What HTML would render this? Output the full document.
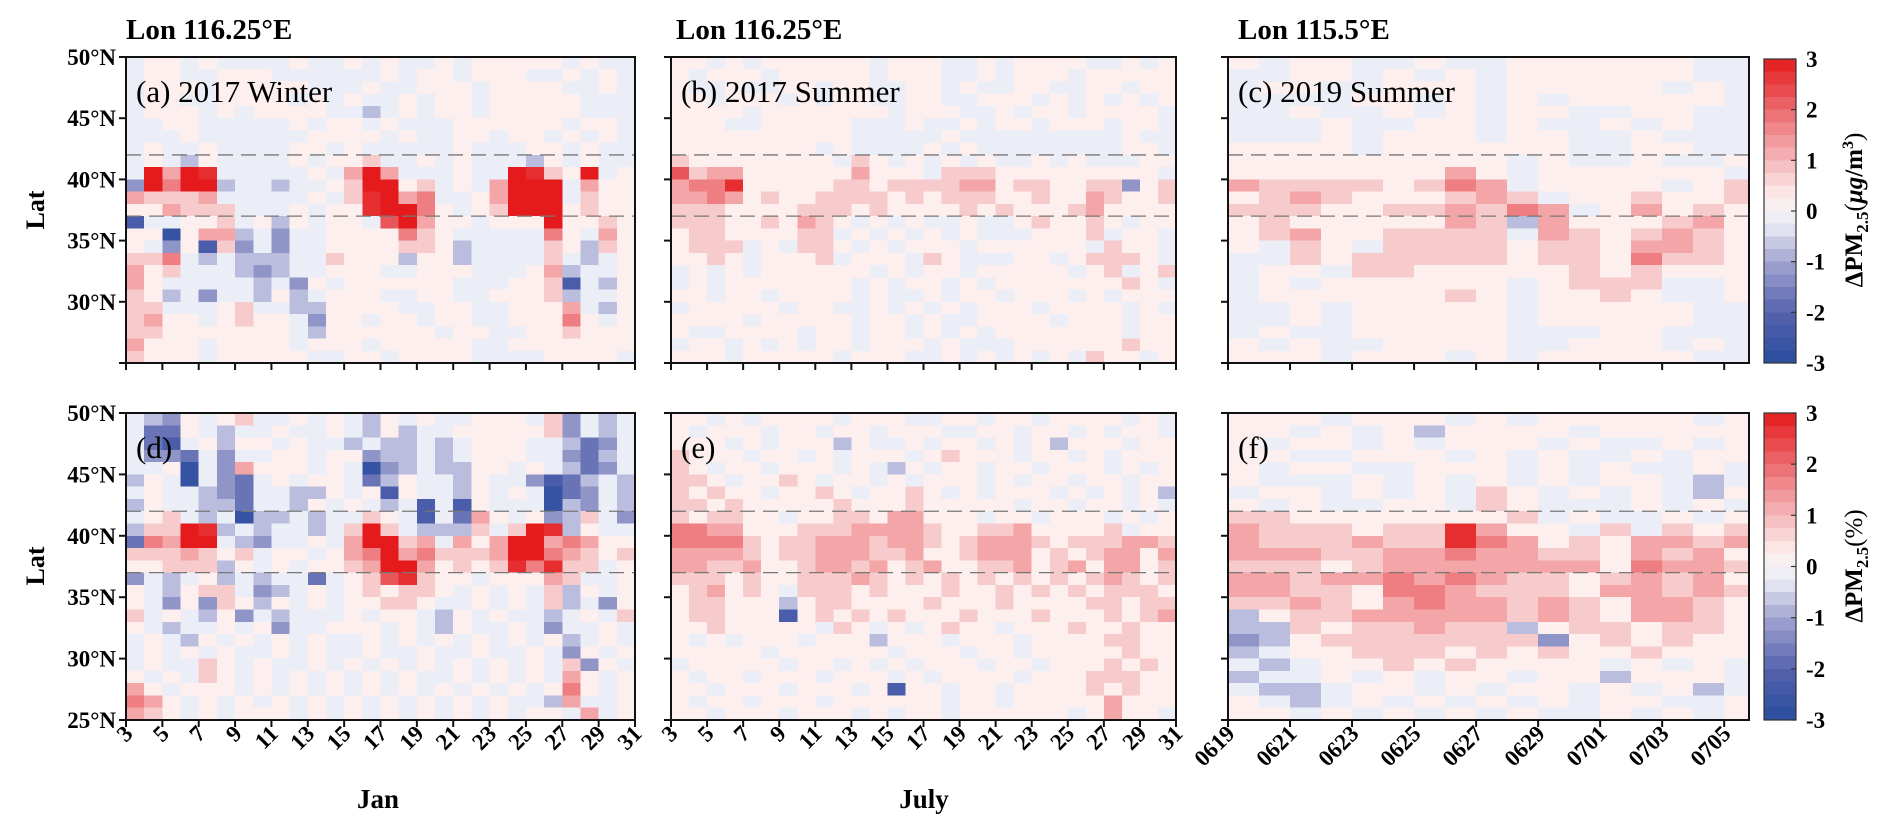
<!DOCTYPE html>
<html><head><meta charset="utf-8">
<style>
html,body{margin:0;padding:0;background:#fff;}
svg{display:block;font-family:"Liberation Serif",serif;}
</style></head>
<body>
<svg id="fig" width="1892" height="835" viewBox="0 0 1892 835" xmlns="http://www.w3.org/2000/svg">
<text x="126" y="39" font-size="29" font-weight="bold">Lon 116.25°E</text>
<text x="676" y="39" font-size="29" font-weight="bold">Lon 116.25°E</text>
<text x="1238" y="39" font-size="29" font-weight="bold">Lon 115.5°E</text>
<text transform="translate(44,210) rotate(-90)" text-anchor="middle" font-size="26" font-weight="bold">Lat</text>
<text transform="translate(44,566) rotate(-90)" text-anchor="middle" font-size="26" font-weight="bold">Lat</text>
<text x="378" y="808" text-anchor="middle" font-size="27" font-weight="bold">Jan</text>
<text x="924" y="808" text-anchor="middle" font-size="27" font-weight="bold">July</text>
<text transform="translate(1862,210) rotate(-90)" text-anchor="middle" font-size="25" font-weight="bold">ΔPM<tspan font-size="17" dy="6">2.5</tspan><tspan dy="-6" font-weight="normal">(</tspan><tspan font-style="italic">μg</tspan>/m<tspan font-size="16" dy="-9">3</tspan><tspan dy="9" font-weight="normal">)</tspan></text>
<text transform="translate(1862,566) rotate(-90)" text-anchor="middle" font-size="25" font-weight="bold">ΔPM<tspan font-size="17" dy="6">2.5</tspan><tspan dy="-6" font-weight="normal">(%)</tspan></text>
</svg>
<script>
const codeVals = {'F':-3,'E':-2.75,'D':-2.25,'C':-1.75,'B':-1.25,'A':-0.75,'-':-0.25,'+':0.25,'a':0.75,'b':1.25,'c':1.75,'d':2.25,'e':2.75,'f':3};
const latTicks = [50,45,40,35,30,25];
const dashLats = [42,37];
const janDays = [3,5,7,9,11,13,15,17,19,21,23,25,27,29,31];
const julyDays = [3,5,7,9,11,13,15,17,19,21,23,25,27,29,31];
const summer19Labels = ['0619','0621','0623','0625','0627','0629','0701','0703','0705'];
const summer19Offsets = [0,2,4,6,8,10,12,14,16];
const cbTicks = [3,2,1,0,-1,-2,-3];

const gridA = [
"-++-+----+--+-+--+-+++++-+--",
"-++--+++------+-++-+++--+-+-",
"-+++-+++++---+--+++-++++--+-",
"-++--++++-+-+--+-++-+++++---",
"-+++-+-++++--A-+-++-+++++---",
"--++-----+-++-+---++++++-++-",
"---+------++++-+--++-++-+-+-",
"-+--+----++-+-----+---++-+--",
"-+-A+----+-++a--+-+---A+-+--",
"-fbfe-----+-bfb---+--fea+f-+",
"BfcffA--A--+aff+a-+-bfff-b++",
"baaab-----+-aefbc--+bfff-a++",
"++baaa---+-++effc+-+afff+a++",
"D--++a-+A+-++-dfb++-+++f++a+",
"++E+bbA-B--++++ca+-----c+-b+",
"+-B+DaB-B--++++aa+A----a+Aa+",
"aac-A-AAA--a+++A++A----a-A-+",
"b+a---ABA--+++--+++---+bA--+",
"b+-----A-B+-++++++---++aD-A+",
"a+A-B--A+A-+++--++--+++aA--+",
"aa---+a--AA++++--++--+++b-A+",
"ab++-+a++-B++-++-++--+++c+-+",
"aa+++++++-A++++++-++--++a+++",
"b+++-++++-+++-+++++--+++++++",
"a+++-+++++--++-++++----++++-"];
const gridB = [
"++-+-++++++-+++--+-++++--+-+",
"+-+++-+++++-+++--+-+++-+++++",
"+--+--++-++--++-+--++--++-++",
"++-+++-+-++--++--+++-+-+-+-+",
"++++-+++++++-+++--+-++-++++-",
"+++--+++++---+--+-++-+++-++-",
"++++++++++-----+---------+--",
"++++++++-+----+-+--------++-",
"a++++++++-a+-+-+-+--+-+---++",
"dabb++++++b+++-aaa+++++++++-",
"bcce+++++aa+aaaabb+aa++aaB+a",
"bbcb+a++aaaa+a+aaa++a++ba++a",
"aaa++++aaa+a++++a+a+++ab++++",
"aaa++a+ba+-+-+--+--+a++a+-++",
"+aa++++aa-+-+-+-+---+++a-++-",
"+aaa-+-aa+-+-+++-++++++-a++-",
"++a+-+++a-+++-a+---++-+aaa+-",
"-+-+-++++++-+-++-+++++-+a-+a",
"-+-+++++++-+-++-+-+++++++a+-",
"++-++-++++-+--+-++-+++-+-+++",
"-+++++-++--+-+-+-+++-++++-+-",
"++++-+++++-++-+--++++-+++-++",
"+--++++-++-++-+-+-+++++++-++",
"-++-+-+-++-+++-+---++++++a++",
"+++-+++++-+++--+-+-+-+-a++-+"];
const gridC = [
"+-++--+--++++++--","--++-+-+-++++++--","-++--+++-+++++-+-","----++-+-+-+++++-",
"--+--+-+-++--++--","---+--++-+--+-+--","---+-+++-++--+---","++++-++++++--++--",
"+++++++++-+--+--+","+++++++b+-++++++-","baaaa+acb-++++-+a","+aba+++aba-++a++a",
"aaa++aabacb-+b+a+","+a+++++baAb+++ab+","+ab++aaaa-ba+aba+","+-a+-aaaa+aa+bba+",
"--a+aaaaa+aa+caa+","-++-aa+++++a+a+++","-+-++++++-+aaa--+","-++++++a+-++a+--+",
"--+-+++++-+++++--","--+-+++++-+++++--","-+--+++++---++---","+-+--++++--+++-+-",
"+++-+++-+-+++++--"];
const gridD = [
"-AB+-+a--+-+-A+-+--+++-aB-A-",
"-CC+-A--+--+-A+A--+++++aB-A-",
"-CD-+A++-+--A-AA-A-+++--ACB-",
"-BBC-B--++-++BAA-A-+++--BCA-",
"--+E-Bb+++-+-EBA-AA++-+-ACB-",
"A+-E-BC-+-++-CA+--A+--BDCA-A",
"-+--ABC--AA+-+D+--A+-+-ECB-A",
"A+--AAC--A+-+-A-D-D+---EAB-A",
"-+a-A-EAA-A--a+-D-Cb+-+BAa-B",
"AaafeA-A--A-afa-AAAa-afeA+--",
"Ccbff-AB--+-bffab-b+bffbcb++",
"aaaba+a-++-+bcfbcaaabffcba+a",
"++aaaA+-+-++abffb+a+aeceaa-+",
"B-A-+A-A--C-+adea++-+++ba--+",
"+-A+aa-BA-+-+a+aa+-+-+-aA+-+",
"+-B+Ba+A+-+-++aa+--+-+-aA-B+",
"a-+-A+B-A---+-++-A+-+--A-+-a",
"+-A--+-+B--+++-+-A+--+-B--+-",
"-+-A+-+-+-+--+-+-+-+-+-+A-+-",
"-+-+-+--+-+--+--+--+--+-B+-+",
"-+--a+-+--+-+-+-+-+-+-+-aB+-",
"+-+-a+-+-+-+-+-+--+-+-+-b+-+",
"b+-+++-+-+-+-+-+-+-+-+-+c+-+",
"cb+-+-+-+-+-+-+-+-+-+--Ab--+",
"ba+-+-+++-+-+-+-+-+-+-++-b-+"];
const gridE = [
"++-+-++++-+++--++-++-++++-+-",
"+-+++-++-++-+++--++-++-+-++-",
"+++-+-+++A+--+-++-+-+A+++-++",
"a+++-++-+-+++-+a+++-++-+-+++",
"a+-++-+++-+-A+-++-++-+++-+-+",
"aa+-++a+-++-+-+++-+-++-++-++",
"a+a++-++a+-++a+-+-+++-+-+-+A",
"aa+a+++++a+++a+++++-++-++-+-",
"a+aa++-++aa+bb+++-++-+++-+-+",
"ccbb+++aaabbbba++aab++++a-++",
"cccca+aabbbabba+abbba+aaabba",
"bbbba+aabbbaab++abbb+a+abb+b",
"bbaab++abbab+ab++aab+ab+bb+a",
"aaa+a++aaaba+a+a+a+a+a+aba+a",
"+ab+a+-aaa+a+++a++a+a+a+aaa+",
"+aa+++A+aa++++a+++a++++aa+aa",
"+aa+++D+a+a+a+++a+++a+++a+ab",
"++a+++++-a+-+-+a++-+++a++a++",
"+-+-+++-+++A+++-+++-++++aa++",
"+++++-++++++-+++-++-+++++a++",
"-+++++-++-+-+-+++-++-+++a+a+",
"+-++-+++-+++-+-++++-+++aaa++",
"++-+++-+++-+D++-++-++++a+a++",
"+-++-+++-++++++-++-+++++b+++",
"++-+++-+++-+-++-++++++-+b++-"];
const gridF = [
"+++-+++-+-+++++-+","++-+-+A++++-+++++","+-++-+-+++-+--+-+","++--+++-+-+--+-++",
"+-++--+++-+-+--+-","+---+-+-+-+-++-A-","-++-+-+-a+-+-+-A+","+-+--++-a+---+-+-",
"aa+++++++a-+--+-+","baaa+aaeb++-a-a+a","baaabaaecb+a+bbab","bbbaabbcbbaa+bab+",
"aaa+abbbbbbb+cbba","bbabbcbcbaa+abab+","bbaa+ccbaaa+bbaba","aaba+bcbbaba+bba+",
"A+aabbbbbaba+bba+","AAa+aabaaA+aa+aa+","BA+aaaaaaaB+a+a++","A-++aaa+a+a++a+++",
"-A-++a+a++++-+-+-","A--+-+-++-++A+++-","-AA-++-+-++-+-+A-","+-A-+-+-+-+-++--+",
"++-+-+-+-+--+-+-+"];

const NS = 'http://www.w3.org/2000/svg';
const svg = document.getElementById('fig');
function mk(tag, attrs){const e=document.createElementNS(NS,tag);for(const k in attrs)e.setAttribute(k,attrs[k]);svg.appendChild(e);return e;}
const stops=[[-3,[42,76,159]],[-2,[85,99,173]],[-1,[163,165,209]],[-0.25,[236,238,247]],[0.25,[252,239,238]],[1,[245,184,186]],[2,[235,106,110]],[3,[228,26,28]]];
function color(v){
  if(v<=stops[0][0])return 'rgb('+stops[0][1].join(',')+')';
  for(let i=1;i<stops.length;i++){if(v<=stops[i][0]){const a=stops[i-1],b=stops[i];const t=(v-a[0])/(b[0]-a[0]);
    return 'rgb('+a[1].map((c,j)=>Math.round(c+(b[1][j]-c)*t)).join(',')+')';}}
  return 'rgb('+stops[stops.length-1][1].join(',')+')';
}
function decode(grid,ncols){return grid.map(row=>{const out=[];for(let c=0;c<ncols;c++){const ch=row[c]||'+';out.push(codeVals[ch]!==undefined?codeVals[ch]:0.25);}return out;});}

function drawPanel(key, grid, px, py, pw, ph, d0, d1, ncols, tickPos, tickLabels, showX, showY, label){
  const xs=d=>px+(d-d0)/(d1-d0)*pw;
  const ys=lat=>py+(50-lat)/25*ph;
  const vals=decode(grid,ncols);
  vals.forEach((row,r)=>{row.forEach((v,c)=>{
    const x1=xs(d0+c), x2=Math.min(xs(d0+c+1),px+pw);
    const y1=ys(50-r), y2=ys(49-r);
    const rc=mk('rect',{x:x1.toFixed(2),y:y1.toFixed(2),width:(x2-x1+0.6).toFixed(2),height:(y2-y1+0.6).toFixed(2),fill:color(v),'shape-rendering':'crispEdges'});
    
    
  });});
  dashLats.forEach(l=>{
    const ln=mk('line',{x1:px,x2:px+pw,y1:ys(l),y2:ys(l),stroke:'#777','stroke-width':1.3,'stroke-dasharray':'15 8'});
    
    
  });
  const fr=mk('rect',{x:px,y:py,width:pw,height:ph,fill:'none',stroke:'#111','stroke-width':2});
  
  
  latTicks.forEach(l=>{
    const t=mk('line',{x1:px-7,x2:px,y1:ys(l),y2:ys(l),stroke:'#111','stroke-width':2});
    
    
    if(showY && (l>25 || key==='d')){
      const tx=mk('text',{x:px-10,y:ys(l)+8,'text-anchor':'end','font-size':23,'font-weight':'bold'});
      tx.textContent=l+'°N';
      
      
    }
  });
  tickPos.forEach((d,i)=>{
    const x=xs(d);
    const t=mk('line',{x1:x,x2:x,y1:py+ph,y2:py+ph+7,stroke:'#111','stroke-width':2});
    
    
    if(showX){
      const tx=mk('text',{transform:'translate('+(x+8)+','+(py+ph+15)+') rotate(-45)','text-anchor':'end','font-size':23,'font-weight':'bold'});
      tx.textContent=tickLabels[i];
      
      
    }
  });
  const lb=mk('text',{x:px+10,y:py+45,'font-size':31});
  lb.textContent=label;
  
  
}
function drawColorbar(key,x,y,w,h){
  const n=24;
  for(let i=0;i<n;i++){
    const v=3-(i+0.5)*6/n;
    const r=mk('rect',{x:x,y:(y+i*h/n).toFixed(2),width:w,height:(h/n+0.6).toFixed(2),fill:color(v),'shape-rendering':'crispEdges'});
    
    
  }
  const fr=mk('rect',{x:x,y:y,width:w,height:h,fill:'none',stroke:'#333','stroke-width':1.2});
  
  
  cbTicks.forEach(v=>{
    const yy=y+(3-v)/6*h;
    const t=mk('line',{x1:x+w-5,x2:x+w,y1:yy,y2:yy,stroke:'#333','stroke-width':1.2});
    
    
    const tx=mk('text',{x:x+w+10,y:yy+8,'font-size':23,'font-weight':'bold'});
    tx.textContent=String(v);
    
    
  });
}
const janLabels=janDays.map(String), julyLabels=julyDays.map(String);
drawPanel('a',gridA,126,57,509,306,3,31,28,janDays,janLabels,false,true,'(a) 2017 Winter');
drawPanel('b',gridB,671,57,505,306,3,31,28,julyDays,julyLabels,false,false,'(b) 2017 Summer');
drawPanel('c',gridC,1228,57,521,306,0,16.8,17,summer19Offsets,summer19Labels,false,false,'(c) 2019 Summer');
drawPanel('d',gridD,126,413,509,307,3,31,28,janDays,janLabels,true,true,'(d)');
drawPanel('e',gridE,671,413,505,307,3,31,28,julyDays,julyLabels,true,false,'(e)');
drawPanel('f',gridF,1228,413,521,307,0,16.8,17,summer19Offsets,summer19Labels,true,false,'(f)');
drawColorbar('top',1764,59,32,304);
drawColorbar('bottom',1764,413,32,307);
</script>
</body></html>
